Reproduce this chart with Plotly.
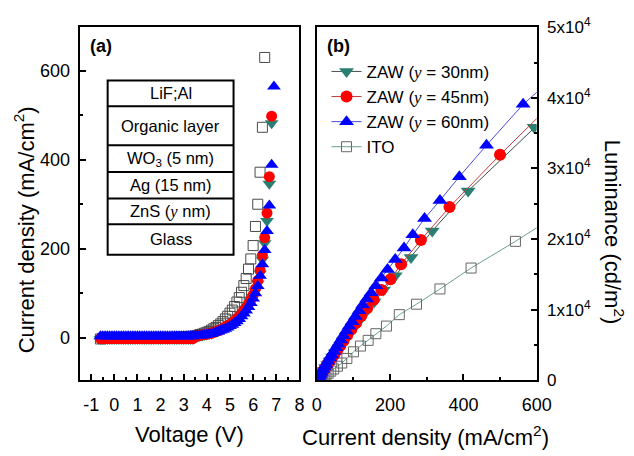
import plotly.graph_objects as go

# ---------------- Panel (a): J-V data ----------------
V = [-0.6, -0.5, -0.4, -0.3, -0.2, -0.1, 0.0, 0.1, 0.2, 0.3, 0.4, 0.5, 0.6, 0.7, 0.8, 0.9,
     1.0, 1.1, 1.2, 1.3, 1.4, 1.5, 1.6, 1.7, 1.8, 1.9, 2.0, 2.1, 2.2, 2.3, 2.4, 2.5, 2.6,
     2.7, 2.8, 2.9, 3.0, 3.1, 3.2, 3.3, 3.4, 3.5, 3.6, 3.7, 3.8, 3.9, 4.0, 4.1, 4.2, 4.3,
     4.4, 4.5, 4.6, 4.7, 4.8, 4.9, 5.0, 5.1, 5.2, 5.3, 5.4, 5.5, 5.6, 5.7, 5.8, 5.9, 6.0,
     6.1, 6.2, 6.3, 6.4, 6.5, 6.6, 6.7, 6.8, 6.9]

J_ito_a = [-3, -2, -2, -1, -1, -1, 0, 0, 0, 0, 0, 0, 0, 0, 0, 0, 0, 0, 0, 0, 0, 0, 0, 0, 0, 0,
           0, 0, 0, 0, 0, 0, 0, 1, 1, 1, 1, 2, 2, 3, 3,
           4, 5, 7, 8, 10, 12, 14, 17, 20, 23, 27, 31, 36, 42, 48, 55, 62, 70, 80, 90, 102,
           117, 133, 154, 177, 207, 250, 300, 372, 473, 630]
J_z60_a = [3, 3, 3, 3, 3, 3, 3, 3, 3, 3, 3, 3, 3, 3, 3, 3, 3, 3, 3, 3, 3, 3, 3, 3, 3, 3,
           3, 3, 3, 3, 3, 3, 3, 3, 3, 3, 3, 3, 3, 3, 3,
           4, 4, 5, 5, 6, 7, 8, 9, 11, 12, 14, 16, 18, 20, 23, 26, 29, 33, 37, 42, 48, 54,
           61, 69, 78, 88, 100, 116, 139, 165, 197, 240, 297, 389, 565]
J_z45_a = [-2, -2, -2, -2, -2, -2, -2, -2, -2, -2, -2, -2, -2, -2, -2, -2, -2, -2, -2, -2,
           -2, -2, -2, -2, -2, -2, -2, -2, -2, -2, -2, -2, -2, -2, -2, -2, -2, -2, -2, -2, -2,
           3, 4, 5, 6, 7, 8, 9, 10, 12, 14, 16, 18, 21, 24, 27, 30, 34, 38, 43, 48, 54, 61,
           68, 76, 86, 96, 110, 128, 152, 185, 225, 280, 362, 498]
J_z30_a = [-3, -3, -3, -3, -3, -3, -3, -3, -3, -3, -3, -3, -3, -3, -3, -3, -3, -3, -3, -3,
           -3, -3, -3, -3, -3, -3, -3, -3, -3, -3, -3, -3, -3, -3, -3, -3, -3, -3, -3, -3, -3,
           2, 3, 4, 5, 6, 7, 8, 9, 11, 13, 15, 17, 20, 23, 26, 29, 32, 36, 41, 46, 52, 58,
           65, 73, 82, 92, 105, 122, 144, 175, 212, 262, 346, 482]

x_ticks_a = [-1, 0, 1, 2, 3, 4, 5, 6, 7, 8]
x_ticklabels_a = ["-1", "0", "1", "2", "3", "4", "5", "6", "7", "8"]
x_minor_a = [-0.5, 0.5, 1.5, 2.5, 3.5, 4.5, 5.5, 6.5, 7.5]
y_ticks_a = [0, 200, 400, 600]
y_minor_a = [100, 300, 500]

layers = ["LiF;Al", "Organic layer", "WO<sub>3</sub> (5 nm)", "Ag (15 nm)",
          "ZnS (<span style=\"font-family:'Liberation Serif'\"><i>y</i></span> nm)", "Glass"]

# ---------------- Panel (b): L-J data ----------------
J_ito_b = [1, 2, 4, 6, 9, 12, 16, 20, 25, 31, 38, 46, 56, 68, 82, 100, 119, 140, 161, 190,
           225, 272, 336, 421, 542, 630]
L_ito_b = [8, 20, 50, 90, 150, 230, 350, 560, 760, 1000, 1300, 1600, 2000, 2450, 3100, 4040,
           4850, 5660, 6600, 7680, 9300, 10780, 12940, 15900, 19680, 22600]

J_z60_b = [0.5, 1.5, 3, 5, 7, 10, 13, 17, 21, 25, 30, 35, 40, 46, 52, 58, 65, 72, 80, 88,
           96, 105, 115, 125, 136, 148, 161, 176, 193, 214, 238, 262, 294, 336, 389, 463,
           563, 620]
L_z60_b = [40, 120, 250, 420, 600, 870, 1150, 1520, 1900, 2250, 2700, 3150, 3600, 4100, 4600,
           5100, 5700, 6300, 6980, 7650, 8300, 9050, 9850, 10650, 11500, 12400, 13400, 14500,
           15700, 17120, 18730, 20620, 22910, 25470, 28840, 33290, 39080, 41700]

J_z45_b = [0.5, 1.5, 3, 5, 8, 11, 15, 19, 24, 29, 35, 41, 48, 56, 64, 73, 83, 94, 107, 121,
           137, 155, 176, 201, 230, 284, 362, 500, 620]
L_z45_b = [30, 90, 200, 350, 560, 800, 1100, 1450, 1850, 2250, 2700, 3200, 3700, 4300, 4900,
           5600, 6400, 7200, 8100, 9100, 10200, 11400, 12800, 14300, 16440, 19880, 24530,
           31940, 38080]

J_z30_b = [0.5, 1.5, 3, 5, 8, 11, 15, 19, 24, 30, 36, 43, 51, 61, 72, 85, 99, 115, 134, 156,
           182, 214, 257, 315, 413, 593, 700]
L_z30_b = [25, 80, 180, 320, 520, 750, 1050, 1400, 1800, 2250, 2750, 3300, 3900, 4600, 5400,
           6300, 7300, 8400, 9700, 11100, 12800, 14800, 17390, 21160, 26820, 35850, 41000]

x_ticks_b = [0, 200, 400, 600]
x_minor_b = [100, 300, 500]
y_ticks_b = [0, 10000, 20000, 30000, 40000, 50000]
y_ticklabels_b = ["0", "1x10<sup>4</sup>", "2x10<sup>4</sup>", "3x10<sup>4</sup>",
                  "4x10<sup>4</sup>", "5x10<sup>4</sup>"]
y_minor_b = [5000, 15000, 25000, 35000, 45000]

names = ["ZAW (<span style=\"font-family:'Liberation Serif'\"><i>y</i></span> = 30nm)",
         "ZAW (<span style=\"font-family:'Liberation Serif'\"><i>y</i></span> = 45nm)",
         "ZAW (<span style=\"font-family:'Liberation Serif'\"><i>y</i></span> = 60nm)",
         "ITO"]

# ---------------- styling ----------------
W, H = 634, 456
def fx(p): return p / W
def fy(p): return 1 - p / H

TEAL = "#2a7f72"
RED = "#ff0000"
BLUE = "#0000ff"
SQ = "#4a4a4a"

fig = go.Figure()

# panel (a)
fig.add_trace(go.Scatter(x=V[:len(J_ito_a)], y=J_ito_a, mode="markers", showlegend=False,
                         marker=dict(symbol="square-open", size=10, color=SQ, line=dict(width=1)),
                         xaxis="x", yaxis="y"))
fig.add_trace(go.Scatter(x=V[:len(J_z30_a)], y=J_z30_a, mode="markers", showlegend=False,
                         marker=dict(symbol="triangle-down", size=12, color=TEAL),
                         xaxis="x", yaxis="y"))
fig.add_trace(go.Scatter(x=V[:len(J_z45_a)], y=J_z45_a, mode="markers", showlegend=False,
                         marker=dict(symbol="circle", size=11, color=RED),
                         xaxis="x", yaxis="y"))
fig.add_trace(go.Scatter(x=V[:len(J_z60_a)], y=J_z60_a, mode="markers", showlegend=False,
                         marker=dict(symbol="triangle-up", size=12, color=BLUE),
                         xaxis="x", yaxis="y"))

# panel (b)
fig.add_trace(go.Scatter(x=J_ito_b, y=L_ito_b, mode="lines+markers", name=names[3], legendrank=4,
                         line=dict(color="#6a9f92", width=1),
                         marker=dict(symbol="square-open", size=10, color="#666666", line=dict(width=1)),
                         xaxis="x2", yaxis="y2"))
fig.add_trace(go.Scatter(x=J_z30_b, y=L_z30_b, mode="lines+markers", name=names[0], legendrank=1,
                         line=dict(color="#3f504c", width=1),
                         marker=dict(symbol="triangle-down", size=13, color=TEAL),
                         xaxis="x2", yaxis="y2"))
fig.add_trace(go.Scatter(x=J_z45_b, y=L_z45_b, mode="lines+markers", name=names[1], legendrank=2,
                         line=dict(color="#c83c3c", width=1),
                         marker=dict(symbol="circle", size=12, color=RED),
                         xaxis="x2", yaxis="y2"))
fig.add_trace(go.Scatter(x=J_z60_b, y=L_z60_b, mode="lines+markers", name=names[2], legendrank=3,
                         line=dict(color="#4a4ae0", width=1),
                         marker=dict(symbol="triangle-up", size=13, color=BLUE),
                         xaxis="x2", yaxis="y2"))

axis_common = dict(showline=True, linewidth=2, linecolor="black", mirror=True, showgrid=False,
                   zeroline=False, ticks="inside", ticklen=6, tickwidth=1.5, tickcolor="black")

fig.update_layout(
    width=W, height=H, margin=dict(l=0, r=0, t=0, b=0),
    paper_bgcolor="white", plot_bgcolor="white",
    font=dict(family="Liberation Sans, Arial, sans-serif", size=18, color="black"),
    xaxis=dict(domain=[fx(77), fx(304)], range=[-1.5, 8], anchor="y",
               tickmode="array", tickvals=x_ticks_a, ticktext=x_ticklabels_a,
               tickfont=dict(size=18, color="black"),
               minor=dict(tickmode="array", tickvals=x_minor_a, ticks="inside", ticklen=3,
                          tickwidth=1.5, tickcolor="black"),
               ticklabelstandoff=7, **axis_common),
    yaxis=dict(domain=[fy(387), fy(16)], range=[-96, 698], anchor="x",
               tickmode="array", tickvals=y_ticks_a,
               tickfont=dict(size=18, color="black"),
               minor=dict(tickmode="array", tickvals=y_minor_a, ticks="inside", ticklen=3,
                          tickwidth=1.5, tickcolor="black"),
               ticklabelstandoff=4, **axis_common),
    xaxis2=dict(domain=[fx(322), fx(549)], range=[0, 600], anchor="y2",
                tickmode="array", tickvals=x_ticks_b,
                tickfont=dict(size=18, color="black"),
                minor=dict(tickmode="array", tickvals=x_minor_b, ticks="inside", ticklen=3,
                           tickwidth=1.5, tickcolor="black"),
                ticklabelstandoff=7, **axis_common),
    yaxis2=dict(domain=[fy(387), fy(16)], range=[0, 50000], anchor="x2", side="right",
                tickmode="array", tickvals=y_ticks_b, ticktext=y_ticklabels_b,
                tickfont=dict(size=17, color="black"),
                minor=dict(tickmode="array", tickvals=y_minor_b, ticks="inside", ticklen=3,
                           tickwidth=1.5, tickcolor="black"),
                ticklabelstandoff=5, **axis_common),
    legend=dict(x=fx(332), y=fy(44), xanchor="left", yanchor="top",
                bgcolor="rgba(0,0,0,0)", font=dict(size=17, color="black"),
                tracegroupgap=0, itemwidth=30),
)

# axis titles and panel labels
ann = [
    dict(text="Voltage (V)", x=fx(190), y=fy(444), font=dict(size=22)),
    dict(text="Current density (mA/cm<sup>2</sup>)", x=fx(20), y=fy(229), textangle=-90,
         font=dict(size=22)),
    dict(text="Current density (mA/cm<sup>2</sup>)", x=fx(434), y=fy(446), font=dict(size=22)),
    dict(text="Luminance (cd/m<sup>2</sup>)", x=fx(629), y=fy(231), textangle=90,
         font=dict(size=22)),
    dict(text="<b>(a)</b>", x=fx(99), y=fy(36), font=dict(size=18)),
    dict(text="<b>(b)</b>", x=fx(344), y=fy(36), font=dict(size=18)),
]
for a in ann:
    fig.add_annotation(xref="paper", yref="paper", showarrow=False, xanchor="center",
                       yanchor="middle", **a)

# device layer stack
bounds = [72, 99, 140, 168, 196, 223, 255]
bx0, bx1 = 106, 236
fig.add_shape(type="rect", xref="paper", yref="paper", x0=fx(bx0), x1=fx(bx1),
              y0=fy(bounds[-1]), y1=fy(bounds[0]), line=dict(color="black", width=2),
              fillcolor="white", layer="above")
for b in bounds[1:-1]:
    fig.add_shape(type="line", xref="paper", yref="paper", x0=fx(bx0), x1=fx(bx1),
                  y0=fy(b), y1=fy(b), line=dict(color="black", width=2))
for i, lab in enumerate(layers):
    cy = (bounds[i] + bounds[i + 1]) / 2
    fig.add_annotation(xref="paper", yref="paper", showarrow=False, x=fx((bx0 + bx1) / 2),
                       y=fy(cy), text=lab, font=dict(size=16.5), xanchor="center",
                       yanchor="middle")

fig.write_html("out.html")
